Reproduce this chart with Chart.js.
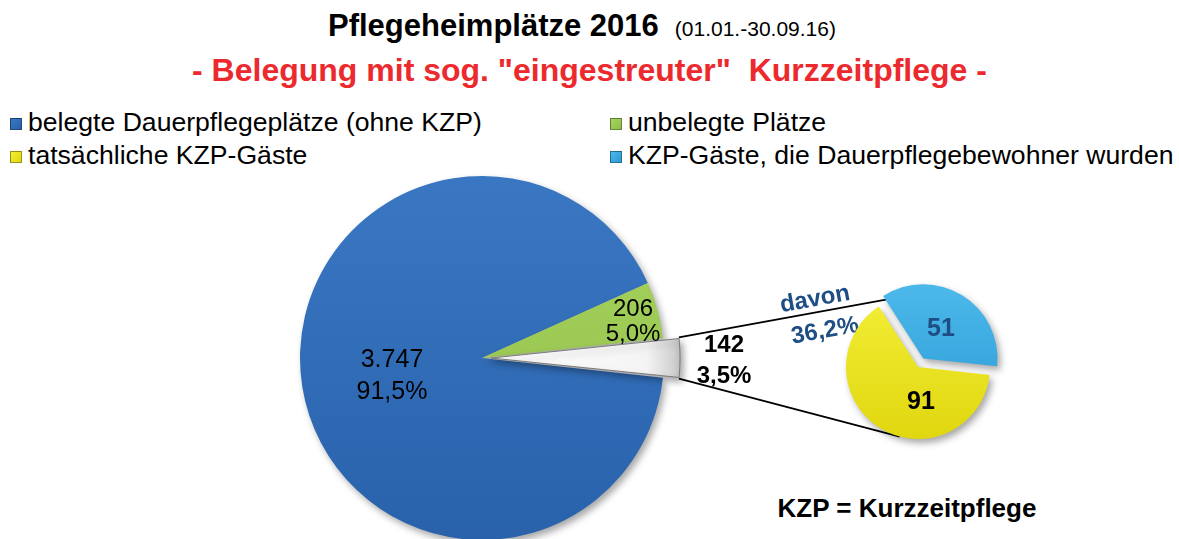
<!doctype html>
<html lang="de">
<head>
<meta charset="utf-8">
<title>Pflegeheimplätze 2016</title>
<style>
  * { margin: 0; padding: 0; font-family: Arial, "Liberation Sans", sans-serif; }
  body { position: relative; width: 1179px; height: 539px; overflow: hidden; background: #fff; }
  canvas { position: absolute; left: 0; top: 0; }
  .title { position: absolute; left: 328px; top: 10px; font-size: 31px; line-height: 31px; font-weight: bold; white-space: nowrap; }
  .title span { font-size: 21px; font-weight: normal; margin-left: 16px; }
  .subtitle { position: absolute; left: 0; top: 54px; width: 1179px; text-align: center; font-size: 32px; line-height: 32px; font-weight: bold; color: #ec2a2e; white-space: pre; }
  .legend div { position: absolute; font-size: 26.6px; line-height: 27px; white-space: nowrap; }
  .legend i { position: absolute; left: -18px; top: 9px; width: 10px; height: 10px; border: 1px solid rgba(0,0,0,0.35); }
  .note { position: absolute; left: 707px; width: 400px; top: 495px; text-align: center; font-size: 26px; line-height: 26px; font-weight: bold; }
</style>
</head>
<body>
  <div class="title">Pflegeheimplätze 2016<span>(01.01.-30.09.16)</span></div>
  <div class="subtitle">- Belegung mit sog. "eingestreuter"  Kurzzeitpflege -</div>
  <div class="legend" id="legend"></div>
  <div class="note">KZP = Kurzzeitpflege</div>
  <canvas id="mainPie" width="1179" height="539"></canvas>
  <canvas id="kzpPie" width="1179" height="539"></canvas>

  <script src="https://cdn.jsdelivr.net/npm/chart.js"></script>
  <script>
    // data
    const mainLabels = ['belegte Dauerpflegeplätze (ohne KZP)', 'unbelegte Plätze', 'KZP-Gäste'];
    const mainValues = [3747, 206, 142];
    const kzpLabels = ['KZP-Gäste, die Dauerpflegebewohner wurden', 'tatsächliche KZP-Gäste'];
    const kzpValues = [51, 91];
    const kzpShareText = ['davon', '36,2%'];

    // colours [top, bottom] of each slice
    const mainColors = [['#3a77c3', '#2962ab'], ['#a9d562', '#8dbd45'], ['#ffffff', '#b9b9b9']];
    const kzpColors = [['#4cb8ea', '#2a9ad6'], ['#f3ee36', '#e0d70f']];
    const darkBlue = '#1f4e85';

    const mainTotal = mainValues.reduce((a, b) => a + b, 0);
    const fmtNum = v => String(v).replace(/\B(?=(\d{3})+(?!\d))/g, '.');
    const fmtPct = v => (v / mainTotal * 100).toFixed(1).replace('.', ',') + '%';

    // legend
    const legendItems = [
      { text: mainLabels[0], color: mainColors[0] },
      { text: mainLabels[1], color: mainColors[1] },
      { text: kzpLabels[1], color: kzpColors[1] },
      { text: kzpLabels[0], color: kzpColors[0] }
    ];
    const legendBox = document.getElementById('legend');
    legendItems.forEach((item, i) => {
      const row = document.createElement('div');
      row.style.left = [28, 628][i % 2] + 'px';
      row.style.top = [109, 142][Math.floor(i / 2)] + 'px';
      const mark = document.createElement('i');
      mark.style.background = 'linear-gradient(135deg, ' + item.color[0] + ', ' + item.color[1] + ')';
      row.appendChild(mark);
      row.appendChild(document.createTextNode(item.text));
      legendBox.appendChild(row);
    });

    // same maths Chart.js uses to push an arc out by its offset
    function arcShape(arc) {
      const off = (arc.options.offset || 0) / 4;
      const mid = (arc.startAngle + arc.endAngle) / 2;
      const fix = 1 - Math.sin(Math.min(Math.PI, arc.circumference));
      return {
        x: arc.x + Math.cos(mid) * off,
        y: arc.y + Math.sin(mid) * off,
        r: arc.outerRadius + off * fix,
        start: arc.startAngle,
        end: arc.endAngle
      };
    }

    function sliceFill(colors) {
      return function (c) {
        const chart = c.chart;
        const area = chart.chartArea;
        const col = colors[c.dataIndex];
        if (!area) return col[0];
        const r = chart.options.radius;
        const cy = (area.top + area.bottom) / 2;
        const cx = (area.left + area.right) / 2;
        let g;
        if (col[0] === '#ffffff') {
          g = chart.ctx.createLinearGradient(cx, 0, cx + r + 12, 0);
          g.addColorStop(0, '#ffffff');
          g.addColorStop(0.8, '#f4f4f4');
          g.addColorStop(0.93, '#d4d4d4');
          g.addColorStop(1, col[1]);
        } else {
          g = chart.ctx.createLinearGradient(0, cy - r, 0, cy + r);
          g.addColorStop(0, col[0]);
          g.addColorStop(1, col[1]);
        }
        return g;
      };
    }

    function textPlugin(items) {
      return {
        id: 'sliceText',
        beforeDatasetsDraw(chart) {
          const ctx = chart.ctx;
          ctx.save();
          ctx.shadowColor = 'rgba(0,0,0,0.35)';
          ctx.shadowBlur = 7;
          ctx.shadowOffsetX = 3;
          ctx.shadowOffsetY = 4;
        },
        afterDatasetsDraw(chart) {
          const ctx = chart.ctx;
          ctx.restore();
          const arcs = chart.getDatasetMeta(0).data;
          items.forEach(it => {
            const a = arcs[it.index];
            ctx.save();
            ctx.font = it.font;
            ctx.fillStyle = it.color;
            ctx.textAlign = 'center';
            ctx.textBaseline = 'middle';
            it.lines.forEach((t, i) => {
              ctx.fillText(t, a.x + it.dx, a.y + it.dy + (i - (it.lines.length - 1) / 2) * it.lineHeight);
            });
            ctx.restore();
          });
        }
      };
    }

    const mainText = [
      { index: 0, lines: [fmtNum(mainValues[0]), fmtPct(mainValues[0])], dx: -90, dy: 18, lineHeight: 32, font: '25px Arial, "Liberation Sans"', color: '#000' },
      { index: 1, lines: [fmtNum(mainValues[1]), fmtPct(mainValues[1])], dx: 151, dy: -36, lineHeight: 25, font: '24px Arial, "Liberation Sans"', color: '#000' },
      { index: 2, lines: [fmtNum(mainValues[2]), fmtPct(mainValues[2])], dx: 242, dy: 3, lineHeight: 31, font: 'bold 24px Arial, "Liberation Sans"', color: '#000' }
    ];

    const kzpText = [
      { index: 0, lines: [String(kzpValues[0])], dx: 23, dy: -38, lineHeight: 0, font: 'bold 25px Arial, "Liberation Sans"', color: darkBlue },
      { index: 1, lines: [String(kzpValues[1])], dx: 3, dy: 35, lineHeight: 0, font: 'bold 25px Arial, "Liberation Sans"', color: '#000' }
    ];

    // main pie: grey slice centred on the right side
    const mainChart = new Chart(document.getElementById('mainPie'), {
      type: 'pie',
      data: {
        labels: mainLabels,
        datasets: [{
          data: mainValues,
          backgroundColor: sliceFill(mainColors),
          borderColor: ['#ffffff', '#ffffff', '#7a7a7a'],
          borderWidth: [0, 0, 1],
          offset: [0, 0, 36],
          clip: false
        }]
      },
      options: {
        responsive: false,
        animation: false,
        radius: 182,
        rotation: 90 + 180 * mainValues[2] / mainTotal,
        layout: { padding: { left: 0, right: 215, top: 177, bottom: 0 } },
        plugins: { legend: { display: false }, tooltip: { enabled: false } }
      },
      plugins: [textPlugin(mainText)]
    });

    // lines from the grey slice to the small pie
    function tangentPoint(p, cx, cy, r, upper) {
      const d = Math.hypot(p.x - cx, p.y - cy);
      const base = Math.atan2(p.y - cy, p.x - cx);
      const alpha = Math.acos(r / d);
      const a1 = { x: cx + r * Math.cos(base + alpha), y: cy + r * Math.sin(base + alpha) };
      const a2 = { x: cx + r * Math.cos(base - alpha), y: cy + r * Math.sin(base - alpha) };
      return (a1.y < a2.y) === upper ? a1 : a2;
    }

    const connector = {
      id: 'connector',
      beforeDatasetsDraw(chart) {
        const g = arcShape(mainChart.getDatasetMeta(0).data[2]);
        const s = chart.getDatasetMeta(0).data[1];
        const p1 = { x: g.x + g.r * Math.cos(g.start), y: g.y + g.r * Math.sin(g.start) };
        const p2 = { x: g.x + g.r * Math.cos(g.end), y: g.y + g.r * Math.sin(g.end) };
        const t1 = tangentPoint(p1, s.x, s.y, s.outerRadius, true);
        const t2 = tangentPoint(p2, s.x, s.y, s.outerRadius, false);
        const ctx = chart.ctx;
        ctx.save();
        ctx.strokeStyle = '#000';
        ctx.lineWidth = 1.8;
        ctx.beginPath();
        ctx.moveTo(p1.x, p1.y); ctx.lineTo(t1.x, t1.y);
        ctx.moveTo(p2.x, p2.y); ctx.lineTo(t2.x, t2.y);
        ctx.stroke();

        // "davon 36,2%" along the upper line
        const ang = Math.atan2(t1.y - p1.y, t1.x - p1.x);
        const len = Math.hypot(t1.x - p1.x, t1.y - p1.y);
        ctx.font = 'bold 24px Arial, "Liberation Sans"';
        ctx.fillStyle = darkBlue;
        ctx.textAlign = 'center';
        ctx.textBaseline = 'middle';
        [[0.612, -13], [0.63, 20]].forEach((pos, i) => {
          ctx.save();
          ctx.translate(p1.x, p1.y);
          ctx.rotate(ang);
          ctx.fillText(kzpShareText[i], len * pos[0], pos[1]);
          ctx.restore();
        });
        ctx.restore();
      }
    };

    // small pie for the KZP guests
    const kzpChart = new Chart(document.getElementById('kzpPie'), {
      type: 'pie',
      data: {
        labels: kzpLabels,
        datasets: [{
          data: kzpValues,
          backgroundColor: sliceFill(kzpColors),
          borderWidth: 0,
          offset: [40, 0],
          clip: false
        }]
      },
      options: {
        responsive: false,
        animation: false,
        radius: 72,
        rotation: -33,
        layout: { padding: { left: 657, right: 0, top: 195, bottom: 0 } },
        plugins: { legend: { display: false }, tooltip: { enabled: false } }
      },
      plugins: [connector, textPlugin(kzpText)]
    });
  </script>
</body>
</html>
